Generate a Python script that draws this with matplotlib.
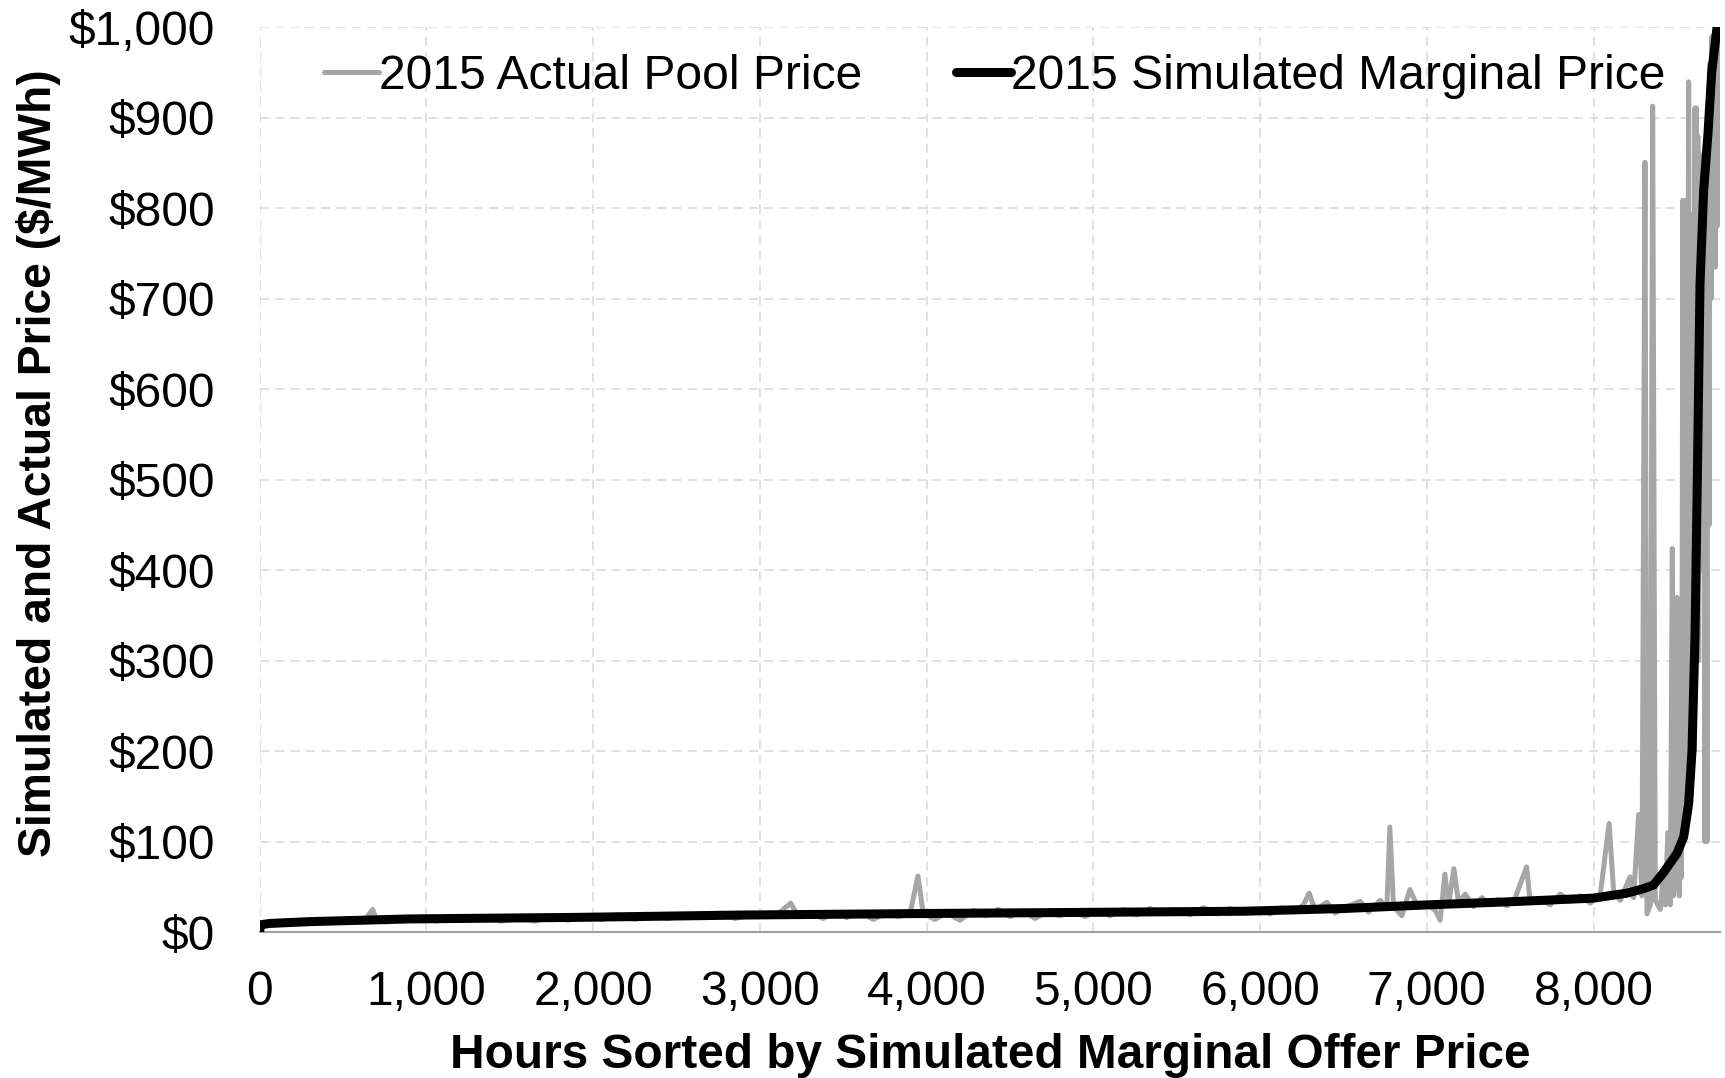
import matplotlib
matplotlib.use("Agg")
import matplotlib.pyplot as plt
from matplotlib.ticker import FuncFormatter, MultipleLocator

plt.rcParams['font.family'] = ['Liberation Sans', 'DejaVu Sans']

# simulated marginal price, sorted
sim_hours = [0, 5, 60, 300, 900, 1900, 2900, 4000, 5000, 5900, 6500, 7000,
             7500, 8000, 8200, 8300, 8360, 8420, 8500, 8540, 8570, 8590,
             8608, 8622, 8638, 8660, 8686, 8708, 8740, 8755]
sim_price = [0, 8, 9.5, 11.5, 14.5, 16.2, 18.8, 20.5, 21.8, 23, 26, 30,
             33.5, 37.5, 43, 48, 52, 66, 87, 105, 142, 200,
             326, 500, 716, 820, 883, 950, 1000, 1040]

# actual pool price in the same hour order (estimated from the grey trace)
pool_hours = [
    0, 40, 100, 160, 220, 300, 380, 450, 520, 600, 640, 678, 700, 760, 820, 900,
    980, 1060, 1150, 1250, 1350, 1450, 1550, 1650, 1750, 1850, 1950, 2050, 2150,
    2250, 2350, 2450, 2550, 2650, 2750, 2850, 2950,
    3050, 3120, 3185, 3230, 3300, 3380, 3450, 3520, 3600, 3680, 3760, 3830, 3900,
    3948, 3980, 4050, 4120, 4200, 4280, 4350, 4430, 4500, 4580, 4650, 4720, 4800,
    4880, 4950, 5030, 5100, 5180, 5260, 5340, 5420, 5500, 5580, 5660, 5740, 5820,
    5900,
    5980, 6060, 6130, 6200, 6260, 6294, 6330, 6400, 6450, 6520, 6600, 6650, 6720,
    6760, 6778, 6800, 6850, 6898, 6940, 7000, 7050, 7080, 7108, 7130, 7162, 7190,
    7230, 7280, 7330, 7380, 7430, 7480, 7530, 7598, 7620, 7680, 7740, 7800, 7860,
    7920, 7980, 8040, 8093, 8120, 8160, 8218, 8240, 8270, 8290, 8308, 8320, 8340,
    8354, 8370, 8400, 8420, 8430, 8445, 8460, 8472, 8480, 8490,
    8500, 8505, 8510, 8515, 8520, 8525, 8530, 8535, 8540, 8545, 8550, 8555, 8560,
    8565, 8570, 8575, 8580, 8585, 8590, 8595, 8600, 8603, 8608, 8612, 8616, 8620,
    8625, 8630, 8636, 8642, 8648, 8655, 8662, 8668, 8674, 8680, 8686, 8692, 8698,
    8704, 8710, 8716, 8722, 8728, 8734, 8740, 8746, 8752]
pool_price = [
    2, 8, 11, 9, 12, 10, 13, 11, 14, 12, 16, 25, 14, 11, 15, 13,
    16, 12, 15, 13, 16, 12, 15, 12, 17, 13, 17, 14, 19,
    14, 18, 15, 19, 16, 21, 15, 19,
    17, 22, 32, 17, 21, 15, 22, 16, 22, 14, 21, 17, 20,
    62, 20, 14, 21, 13, 24, 18, 25, 17, 23, 15, 22, 18,
    24, 17, 24, 18, 25, 19, 26, 20, 25, 19, 27, 20, 26,
    21,
    25, 20, 27, 22, 30, 43, 24, 33, 21, 28, 34, 22, 35,
    27, 116, 28, 18, 47, 30, 31, 24, 13, 64, 30, 70, 33,
    42, 28, 38, 30, 36, 29, 38, 72, 33, 36, 30, 42, 34,
    40, 32, 42, 120, 45, 35, 61, 38, 130, 40, 851, 20, 30,
    913, 35, 25, 70, 30, 110, 30, 424, 40, 60,
    370, 90, 179, 40, 150, 60, 250, 809, 100, 700, 150, 809, 120,
    600, 940, 200, 780, 150, 780, 300, 795, 200, 911, 400, 911, 500,
    880, 300, 860, 400, 830, 500, 800, 100, 750, 100, 900, 450, 960,
    700, 990, 750, 980, 735, 1000, 780, 1000, 960]

x_ticks = [0, 1000, 2000, 3000, 4000, 5000, 6000, 7000, 8000]

fig = plt.figure(figsize=(17.25, 10.78), dpi=100)
ax = fig.add_axes([0.1505, 0.1354, 0.8468, 0.8391])

ax.plot(pool_hours, pool_price, color='#A6A6A6', lw=3.6, solid_joinstyle='round',
        solid_capstyle='round', label='2015 Actual Pool Price', zorder=2)
ax.plot(sim_hours, sim_price, color='black', lw=6.5, solid_capstyle='round',
        label='2015 Simulated Marginal Price', zorder=3)

ax.set_xlim(0, 8760)
ax.set_ylim(0, 1000)
ax.set_xticks(x_ticks)
ax.yaxis.set_major_locator(MultipleLocator(100))
ax.xaxis.set_major_formatter(FuncFormatter(lambda v, p: f'{int(v):,}'))
ax.yaxis.set_major_formatter(FuncFormatter(lambda v, p: f'${int(v):,}'))
ax.tick_params(axis='both', length=0, labelsize=34.5)
ax.tick_params(axis='y', pad=32)
ax.tick_params(axis='x', pad=27)

ax.set_axisbelow(True)
ax.grid(True, color='#D9D9D9', lw=1.1, dashes=(6, 4))
for s in ['left', 'right', 'top']:
    ax.spines[s].set_visible(False)
ax.spines['bottom'].set_color('#A0A0A0')
ax.spines['bottom'].set_linewidth(1.5)

ax.set_xlabel('Hours Sorted by Simulated Marginal Offer Price',
              fontsize=34.4, fontweight='bold')
ax.set_ylabel('Simulated and Actual Price ($/MWh)',
              fontsize=33.3, fontweight='bold')
ax.xaxis.set_label_coords(0.5, -0.112)
ax.yaxis.set_label_coords(-0.1357, 0.518)

leg = ax.legend(loc='center left', bbox_to_anchor=(0.044, 0.946), ncol=2,
                frameon=False, fontsize=34.6, borderpad=0, borderaxespad=0,
                handlelength=1.15, handletextpad=0.0, columnspacing=1.95)

fig.savefig('out.png', dpi=100)
